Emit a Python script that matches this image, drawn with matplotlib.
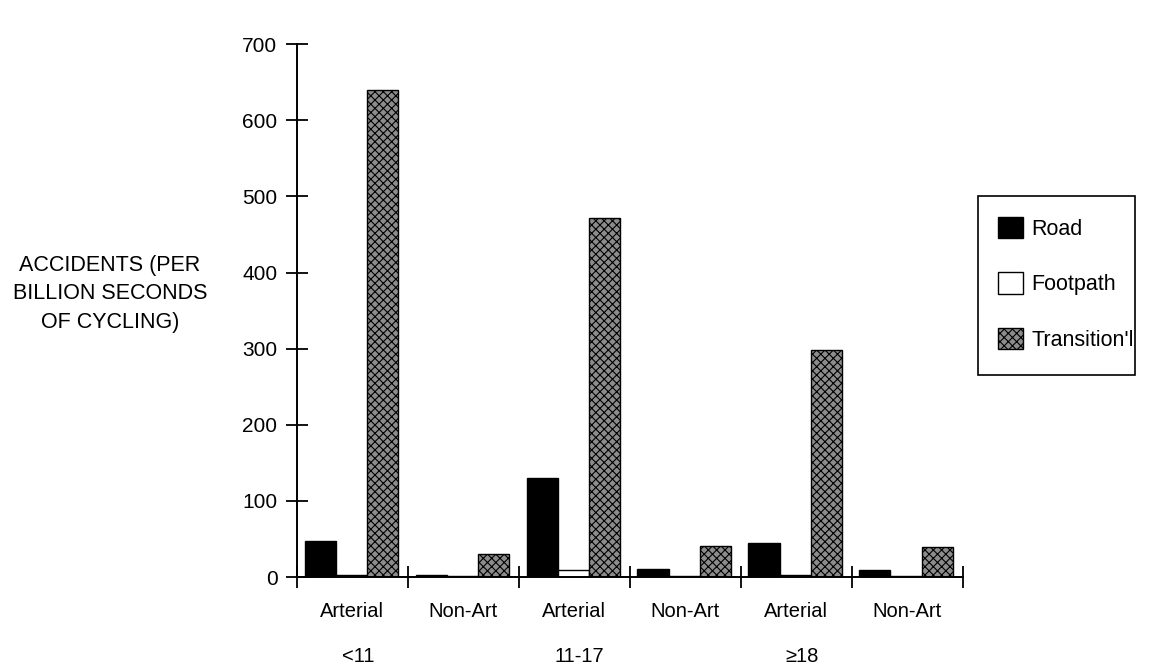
import matplotlib
matplotlib.use("Agg")
import matplotlib.pyplot as plt
import numpy as np
from matplotlib.patches import Patch, Rectangle

plt.rcParams['font.family'] = ['Liberation Sans', 'DejaVu Sans']
plt.rcParams['hatch.linewidth'] = 0.8

# ---- data ----
road_types = ["Arterial", "Non-Art", "Arterial", "Non-Art", "Arterial", "Non-Art"]
age_groups = ["<11", "11-17", "\u226518"]
series_names = ["Road", "Footpath", "Transition'l"]
road = [48, 3, 130, 11, 45, 10]
footpath = [3, 1, 9, 1, 3, 2]
transitional = [640, 31, 472, 41, 298, 40]
y_ticks = [0, 100, 200, 300, 400, 500, 600, 700]

fig = plt.figure(figsize=(11.64, 6.68), dpi=100)
ax = fig.add_axes([0.255, 0.136, 0.572, 0.798])

x = np.arange(len(road_types))
w = 0.28
styles = [
    dict(facecolor="black", edgecolor="black"),
    dict(facecolor="white", edgecolor="black"),
    dict(facecolor="#8c8c8c", edgecolor="black", hatch="xxxx"),
]
for vals, off, st in zip([road, footpath, transitional], [0.21, 0.49, 0.77], styles):
    ax.bar(x + off, vals, width=w, linewidth=1.0, **st)

ax.set_xlim(0, 6)
ax.set_ylim(0, 700)
ax.set_yticks(y_ticks)
ax.set_yticklabels([str(t) for t in y_ticks], fontsize=15)
ax.set_xticks(np.arange(0, 7))
ax.set_xticklabels([])
ax.tick_params(axis="both", direction="inout", length=16, width=1.3)
ax.tick_params(axis="y", pad=6)

for s in ["top", "right"]:
    ax.spines[s].set_visible(False)
for s in ["left", "bottom"]:
    ax.spines[s].set_linewidth(1.4)

# category labels
trans = ax.get_xaxis_transform()
for i, lab in enumerate(road_types):
    ax.text(i + 0.5, -0.047, lab, transform=trans, ha="center", va="top", fontsize=14.5)
for k, lab in enumerate(age_groups):
    ax.text(2 * k + 0.55, -0.131, lab, transform=trans, ha="center", va="top", fontsize=14.5)

fig.text(0.0945, 0.56, "ACCIDENTS (PER\nBILLION SECONDS\nOF CYCLING)",
         ha="center", va="center", multialignment="center", fontsize=15.5, linespacing=1.45)

# legend frame drawn separately
fig.patches.append(Rectangle((978 / 1164, 1 - 375 / 668), 157 / 1164, 179 / 668,
                             transform=fig.transFigure, facecolor="white",
                             edgecolor="black", linewidth=1.2, zorder=0))
handles = [Patch(**styles[0], linewidth=1.0), Patch(**styles[1], linewidth=1.0),
           Patch(**styles[2], linewidth=1.0)]
leg = fig.legend(handles, series_names, loc="upper left",
                 bbox_to_anchor=(998 / 1164, 1 - 217 / 668),
                 fontsize=15.5, frameon=False, handlelength=1.15, handleheight=1.15,
                 labelspacing=1.5, borderpad=0, handletextpad=0.4, borderaxespad=0)

fig.savefig("out.png", dpi=100)
